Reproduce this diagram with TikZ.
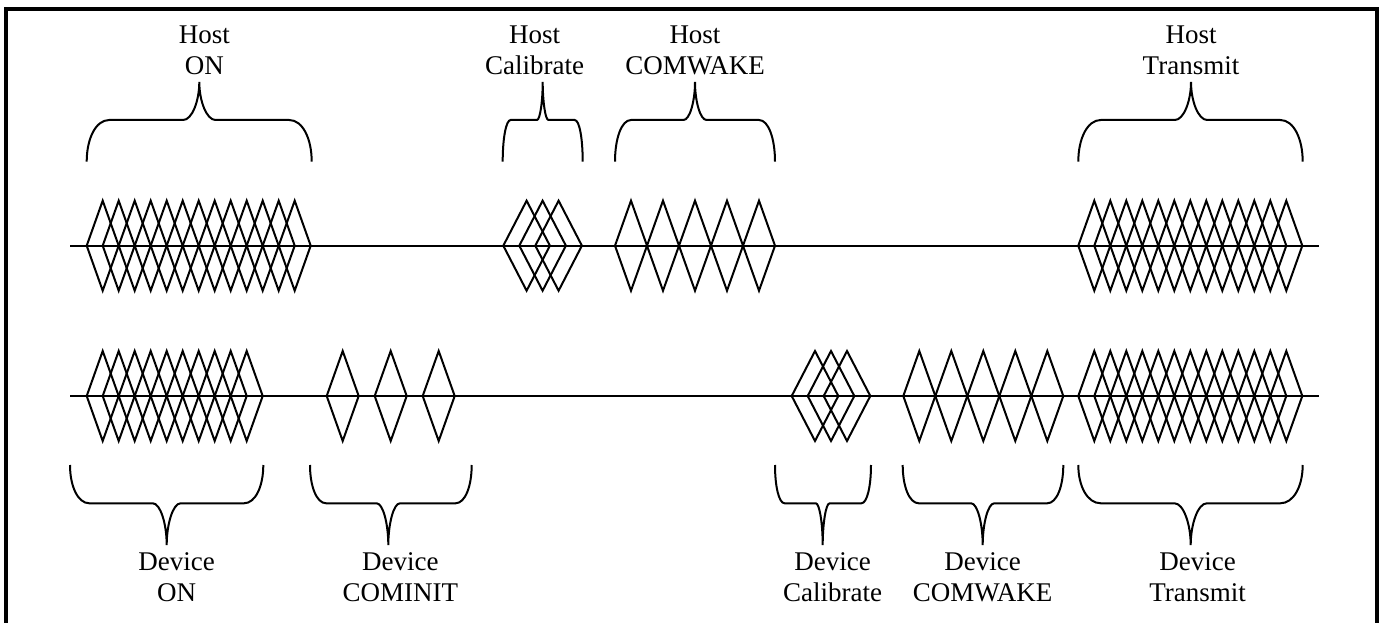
\documentclass[tikz,border=0pt]{standalone}
\usepackage{fontspec}
\setmainfont{Liberation Serif}
\usetikzlibrary{positioning}

% a burst of n diamonds on a line: left x, centre y, count, step, half width
\newcommand{\burst}[5]{%
  \foreach \k in {1,...,#3}{
    \pgfmathsetmacro{\cx}{#1+#5+(\k-1)*#4}
    \draw[wave] ({\cx-#5},#2) -- (\cx,{#2-45}) -- ({\cx+#5},#2) -- (\cx,{#2+45}) -- cycle;
  }}
% curly brace: left x, tip x, right x, end y, middle y, tip y, tip name
\newcommand{\sigbrace}[7]{%
  \pgfmathsetmacro{\arm}{0.1*(#3-#1)}
  \pgfmathsetmacro{\tip}{0.072*(#3-#1)}
  \draw[curl] (#1,#4) .. controls (#1,{#5+0.45*(#4-#5)}) and ({#1+0.4*\arm},#5) .. ({#1+\arm},#5)
    -- ({#2-\tip},#5) .. controls ({#2-0.45*\tip},#5) and (#2,{#6+0.5*(#5-#6)}) .. (#2,#6)
    .. controls (#2,{#6+0.5*(#5-#6)}) and ({#2+0.45*\tip},#5) .. ({#2+\tip},#5)
    -- ({#3-\arm},#5) .. controls ({#3-0.4*\arm},#5) and (#3,{#5+0.45*(#4-#5)}) .. (#3,#4);
  \coordinate (#7) at (#2,#6);}

\begin{document}
\begin{tikzpicture}[
    x=1pt, y=-1pt,
    wave/.style={line width=2pt, line join=miter},
    curl/.style={line width=2pt},
    frame/.style={line width=4.5pt},
    lbl/.style={align=center, inner sep=0pt, font=\fontsize{27pt}{31pt}\selectfont}
]
    \useasboundingbox (0,0) rectangle (1385,623);
    \draw[frame] (6,640) -- (6,9) -- (1377,9) -- (1377,640);

    \coordinate (hostL) at (70,245.7);
    \coordinate (hostR) at (1319,245.7);
    \coordinate (devL) at (70,396);
    \coordinate (devR) at (1319,396);
    \draw[wave] (hostL) -- (hostR);
    \draw[wave] (devL) -- (devR);

    \burst{86.7}{245.7}{13}{16}{16}
    \burst{503.3}{245.7}{3}{16}{23.3}
    \burst{615}{245.7}{5}{32}{16}
    \burst{1078.3}{245.7}{13}{16}{16}

    \burst{86.7}{396}{10}{16}{16}
    \burst{326.7}{396}{3}{48}{16}
    \burst{791.7}{396}{3}{16}{23.3}
    \burst{903.3}{396}{5}{32}{16}
    \burst{1078.3}{396}{13}{16}{16}

    \sigbrace{86.7}{199.3}{311.7}{161.7}{120}{82}{hOn}
    \sigbrace{502.7}{542.7}{582.7}{161.7}{120}{82}{hCal}
    \sigbrace{615}{695}{775}{161.7}{120}{82}{hWake}
    \sigbrace{1078.3}{1191}{1302.7}{161.7}{120}{82}{hTx}

    \sigbrace{70}{166.7}{263.3}{465}{503.3}{545}{dOn}
    \sigbrace{310}{388.3}{471.7}{465}{503.3}{545}{dInit}
    \sigbrace{775}{822.7}{871}{465}{503.3}{545}{dCal}
    \sigbrace{902.7}{982.7}{1063.3}{465}{503.3}{545}{dWake}
    \sigbrace{1078.3}{1190.7}{1302.7}{465}{503.3}{545}{dTx}

    \node[lbl, above=7pt of hOn, xshift=5pt] (hOnLbl) {Host\\ON};
    \node[lbl, above=7pt of hCal, xshift=-8pt] (hCalLbl) {Host\\Calibrate};
    \node[lbl, above=7pt of hWake] (hWakeLbl) {Host\\COMWAKE};
    \node[lbl, above=7pt of hTx] (hTxLbl) {Host\\Transmit};

    \node[lbl, below=7pt of dOn, xshift=10pt] (dOnLbl) {Device\\ON};
    \node[lbl, below=7pt of dInit, xshift=12pt] (dInitLbl) {Device\\COMINIT};
    \node[lbl, below=7pt of dCal, xshift=10pt] (dCalLbl) {Device\\Calibrate};
    \node[lbl, below=7pt of dWake] (dWakeLbl) {Device\\COMWAKE};
    \node[lbl, below=7pt of dTx, xshift=7pt] (dTxLbl) {Device\\Transmit};
\end{tikzpicture}
\end{document}
